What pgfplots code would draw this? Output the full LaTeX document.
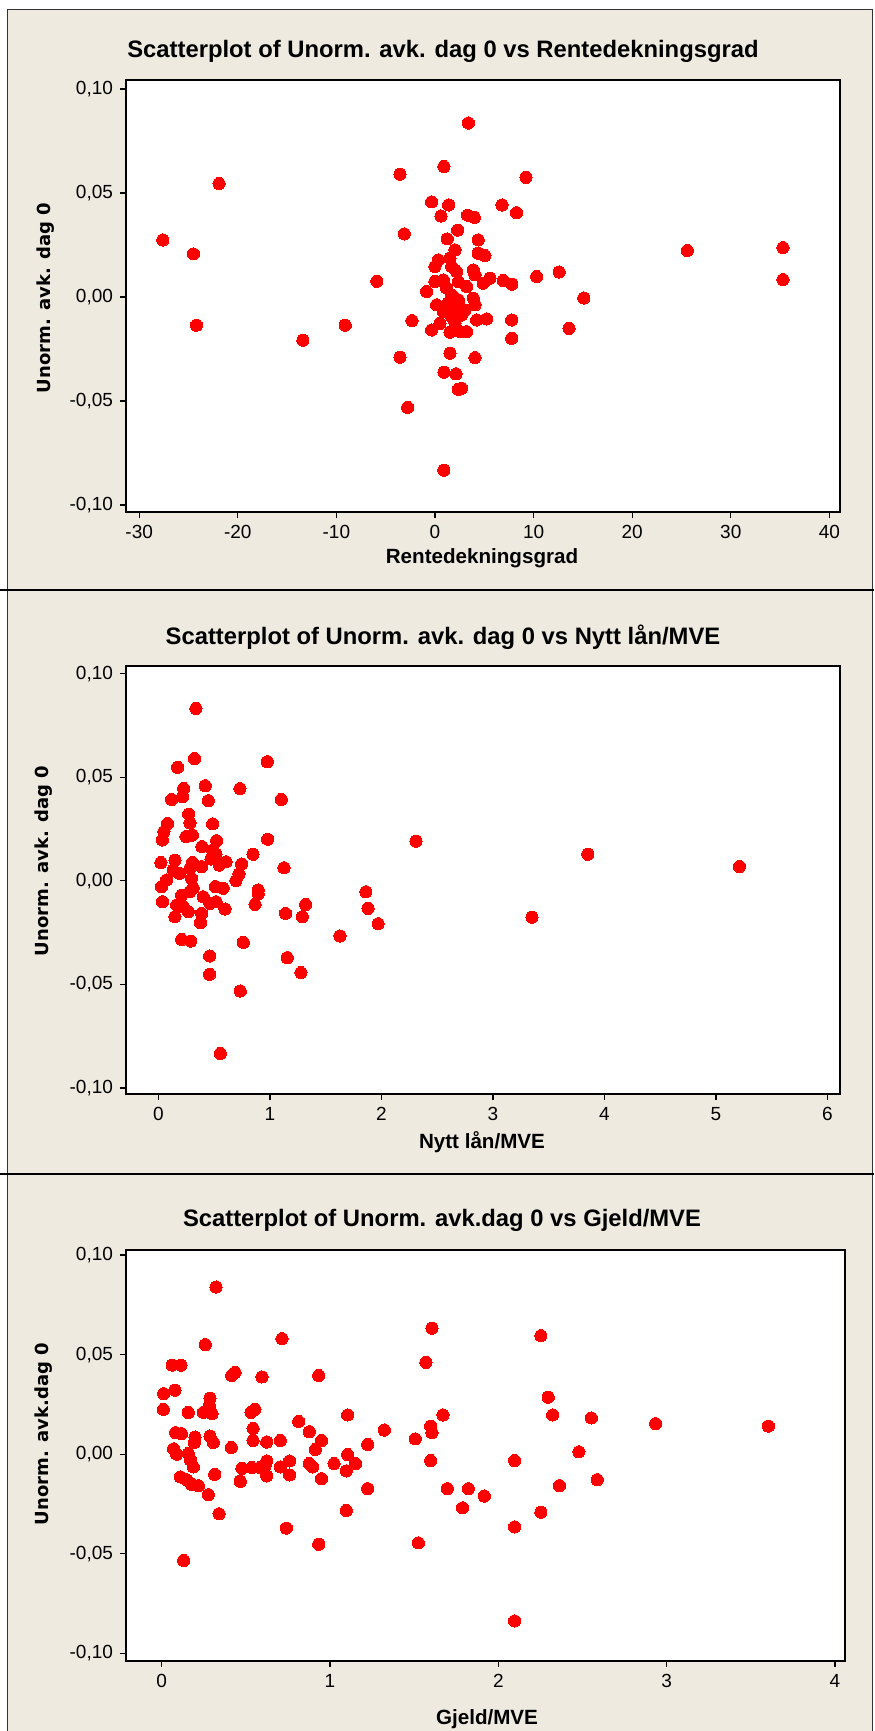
\documentclass[border=0pt]{standalone}
\usepackage{fontspec}
\usepackage{pgfplots}
\pgfplotsset{compat=1.18}
\setmainfont{Liberation Sans}
\newfontfamily\ylabfont{DejaVu Sans}
\definecolor{bg}{RGB}{238,234,224}
\definecolor{dotred}{RGB}{255,0,0}
\pgfplotsset{mini/.style={
  scale only axis, anchor=south west,
  axis background/.style={fill=white},
  axis line style={black, line width=0.9pt},
  tick align=outside, tick pos=left,
  major tick length=3pt,
  every tick/.style={black, line width=0.6pt},
  ticklabel style={font=\fontsize{9.5}{10}\selectfont},
  /pgf/number format/assume math mode=true,
  xlabel=\empty, ylabel=\empty,
}}
\pgfplotsset{dots/.style={color=dotred, only marks, mark=*, mark size=3.05pt, mark options={draw=dotred, fill=dotred, line width=0pt}}}
\begin{document}
\begin{tikzpicture}
\useasboundingbox (0,0) rectangle (437pt,865.5pt);
\fill[white] (0,0) rectangle (437pt,865.5pt);
\fill[bg] (3.5pt,0) rectangle (436pt,860.5pt);
\draw[black!80, line width=0.5pt] (3.5pt,0) -- (3.5pt,860.5pt) -- (436pt,860.5pt) -- (436pt,0);
\draw[black, line width=1pt] (0pt,570.5pt) -- (437pt,570.5pt);
\draw[black, line width=1pt] (0pt,278.5pt) -- (437pt,278.5pt);

% ---------- Panel 1
\begin{axis}[mini, at={(63pt,609.5pt)}, width=357pt, height=216pt,
  xmin=-31.34, xmax=41.08, ymin=-0.1034, ymax=0.1043,
  xtick={-30,-20,-10,0,10,20,30,40},
  xticklabels={-30,-20,-10,0,10,20,30,40},
  ytick={-0.1,-0.05,0,0.05,0.1},
  yticklabels={{-0,10},{-0,05},{0,00},{0,05},{0,10}}]
\addplot[dots] coordinates {
(-27.6,0.0274) (-24.5,0.0207) (-24.2,-0.0136) (-21.9,0.0545) (-13.4,-0.0208) (-9.1,-0.0136) (-5.9,0.0075)
(25.6,0.0223) (35.3,0.0237) (35.3,0.0083) (12.6,0.0120) (15.1,-0.0005) (13.6,-0.0151)
(3.39,0.0836) (0.90,-0.0833) (-2.77,-0.0531)
(0.91,0.0627) (-3.55,0.0590) (9.23,0.0575) (-0.34,0.0457) (1.39,0.0442) (0.61,0.0389) (3.31,0.0393)
(3.99,0.0383) (6.80,0.0442) (8.28,0.0405) (-3.11,0.0303) (2.30,0.0321) (10.31,0.0098) (-2.33,-0.0114)
(-3.55,-0.0290) (0.91,-0.0362) (2.13,-0.0370) (2.37,-0.0444) (2.70,-0.0439)
(1.25,0.0279) (4.39,0.0274) (2.03,0.0226) (4.39,0.0210) (5.07,0.0199) (0.34,0.0178) (1.52,0.0186)
(0.00,0.0146) (1.69,0.0146) (3.89,0.0130) (4.06,0.0106) (2.20,0.0122) (5.58,0.0090) (4.90,0.0066)
(6.93,0.0079) (7.78,0.0061) (0.00,0.0074) (0.85,0.0082) (2.37,0.0074) (3.21,0.0050) (-0.85,0.0026)
(1.69,0.0010) (3.89,-0.0006) (4.06,-0.0038) (0.17,-0.0038) (1.35,-0.0030) (2.03,-0.0046) (0.85,-0.0071)
(2.70,-0.0087) (1.69,-0.0095) (4.23,-0.0111) (5.24,-0.0106) (0.51,-0.0127) (-0.34,-0.0159) (1.52,-0.0170)
(2.54,-0.0167) (3.21,-0.0167) (7.78,-0.0111) (7.78,-0.0199) (1.52,-0.0271) (4.06,-0.0292)
(1.18,0.0042) (2.37,-0.0014) (3.04,-0.0063) (2.03,-0.0127)
};
\end{axis}

% ---------- Panel 2
\begin{axis}[mini, at={(63pt,318.5pt)}, width=357pt, height=214pt,
  xmin=-0.291, xmax=6.112, ymin=-0.1029, ymax=0.1037,
  xtick={0,1,2,3,4,5,6}, xticklabels={0,1,2,3,4,5,6},
  ytick={-0.1,-0.05,0,0.05,0.1},
  yticklabels={{-0,10},{-0,05},{0,00},{0,05},{0,10}}]
\addplot[dots] coordinates {
(0.336,0.0832) (0.324,0.0590) (0.172,0.0548) (0.976,0.0575) (0.226,0.0446) (0.420,0.0459) (0.731,0.0445)
(0.118,0.0393) (0.217,0.0406) (0.447,0.0387) (1.102,0.0393) (0.271,0.0322) (0.283,0.0280) (0.486,0.0275)
(0.082,0.0277) (0.049,0.0237) (0.035,0.0197) (0.247,0.0213) (0.304,0.0221) (0.390,0.0165) (0.522,0.0194)
(0.486,0.0149) (0.516,0.0129) (0.471,0.0105) (0.546,0.0076) (0.606,0.0092) (0.848,0.0128) (0.746,0.0081)
(0.979,0.0201) (1.126,0.0063) (0.022,0.0088) (0.148,0.0100) (0.133,0.0052) (0.187,0.0036) (0.306,0.0088)
(0.283,0.0060) (0.387,0.0068) (0.297,0.0012) (0.722,0.0033) (0.695,0.0001) (0.073,0.0004) (0.028,-0.0028)
(0.510,-0.0028) (0.581,-0.0036) (0.895,-0.0044)
(0.037,-0.0101) (0.208,-0.0069) (0.283,-0.0052) (0.312,-0.0036) (0.402,-0.0077) (0.163,-0.0117)
(0.223,-0.0125) (0.268,-0.0149) (0.148,-0.0173) (0.387,-0.0157) (0.462,-0.0109) (0.516,-0.0101)
(0.378,-0.0202) (0.597,-0.0136) (0.895,-0.0064) (0.866,-0.0114) (1.320,-0.0114) (1.140,-0.0157)
(1.290,-0.0173) (1.628,-0.0266) (0.208,-0.0283) (0.289,-0.0291) (0.761,-0.0297) (0.459,-0.0363)
(1.155,-0.0371) (0.459,-0.0451) (1.278,-0.0443) (0.734,-0.0532) (0.555,-0.0833)
(1.86,-0.0053) (1.88,-0.0133) (1.97,-0.0207) (2.31,0.0191) (3.85,0.0128) (3.35,-0.0176) (5.21,0.0069)
};
\end{axis}

% ---------- Panel 3
\begin{axis}[mini, at={(63pt,35pt)}, width=359.5pt, height=205.5pt,
  xmin=-0.212, xmax=4.06, ymin=-0.1038, ymax=0.1025,
  xtick={0,1,2,3,4}, xticklabels={0,1,2,3,4},
  ytick={-0.1,-0.05,0,0.05,0.1},
  yticklabels={{-0,10},{-0,05},{0,00},{0,05},{0,10}}]
\addplot[dots] coordinates {
(0.323,0.0839) (0.259,0.0550) (0.063,0.0447) (0.115,0.0447) (0.715,0.0580) (0.416,0.0395) (0.436,0.0410)
(0.596,0.0388) (0.933,0.0395) (0.012,0.0304) (0.079,0.0321) (0.010,0.0225) (0.287,0.0281) (0.283,0.0242)
(0.248,0.0210) (0.299,0.0203) (0.158,0.0210) (0.531,0.0210) (0.554,0.0225) (0.814,0.0165) (1.105,0.0197)
(1.323,0.0121) (0.543,0.0129) (0.877,0.0113) (0.083,0.0108) (0.117,0.0103) (0.198,0.0086) (0.194,0.0059)
(0.287,0.0091) (0.307,0.0059) (0.543,0.0069) (0.624,0.0061) (0.705,0.0069) (0.950,0.0069) (0.414,0.0034)
(0.913,0.0024) (1.224,0.0049) (0.071,0.0027) (0.089,0.0000) (0.158,0.0003) (0.172,-0.0030) (0.188,-0.0064)
(1.105,-0.0002) (1.024,-0.0047) (1.152,-0.0047) (0.760,-0.0034) (0.624,-0.0034) (0.477,-0.0071)
(0.535,-0.0067) (0.584,-0.0067) (0.614,-0.0061) (0.624,-0.0109) (0.705,-0.0064) (0.760,-0.0104)
(0.877,-0.0047) (0.897,-0.0064) (1.097,-0.0084) (0.950,-0.0123) (0.315,-0.0101) (0.111,-0.0114)
(0.149,-0.0128) (0.178,-0.0151) (0.218,-0.0158) (0.467,-0.0136) (0.277,-0.0203) (1.224,-0.0173)
(0.341,-0.0299) (1.097,-0.0282) (0.741,-0.0371) (0.933,-0.0452) (0.131,-0.0534)
(1.606,0.0632) (2.253,0.0595) (1.570,0.0461) (2.297,0.0286) (2.323,0.0197) (2.553,0.0182) (1.671,0.0197)
(1.598,0.0141) (1.606,0.0108) (1.507,0.0077) (2.479,0.0012) (2.097,-0.0032) (1.598,-0.0032) (2.588,-0.0128)
(2.363,-0.0158) (1.697,-0.0173) (1.822,-0.0173) (1.917,-0.0210) (1.788,-0.0269) (2.253,-0.0291)
(2.097,-0.0365) (1.525,-0.0445) (2.097,-0.0837) (2.935,0.0153) (3.605,0.0141)
};
\end{axis}

% ---------- Titles and labels
\node[font=\bfseries\fontsize{11.9}{13}\selectfont] at (221.5pt,840pt) {Scatterplot of Unorm. avk. dag 0 vs Rentedekningsgrad};
\node[font=\bfseries\fontsize{11.9}{13}\selectfont] at (221.5pt,547pt) {Scatterplot of Unorm. avk. dag 0 vs Nytt lån/MVE};
\node[font=\bfseries\fontsize{11.9}{13}\selectfont] at (221pt,255.5pt) {Scatterplot of Unorm. avk.dag 0 vs Gjeld/MVE};
\node[font=\bfseries\fontsize{10.3}{12}\selectfont] at (241pt,586.5pt) {Rentedekningsgrad};
\node[font=\bfseries\fontsize{10.3}{12}\selectfont] at (241pt,294.5pt) {Nytt lån/MVE};
\node[font=\bfseries\fontsize{10.3}{12}\selectfont] at (243.5pt,6pt) {Gjeld/MVE};
\node[font=\ylabfont\bfseries\fontsize{9}{11}\selectfont, rotate=90] at (23pt,716.5pt) {Unorm. avk. dag 0};
\node[font=\ylabfont\bfseries\fontsize{9}{11}\selectfont, rotate=90] at (22pt,435pt) {Unorm. avk. dag 0};
\node[font=\ylabfont\bfseries\fontsize{9}{11}\selectfont, rotate=90] at (22pt,148.5pt) {Unorm. avk.dag 0};
\end{tikzpicture}
\end{document}
